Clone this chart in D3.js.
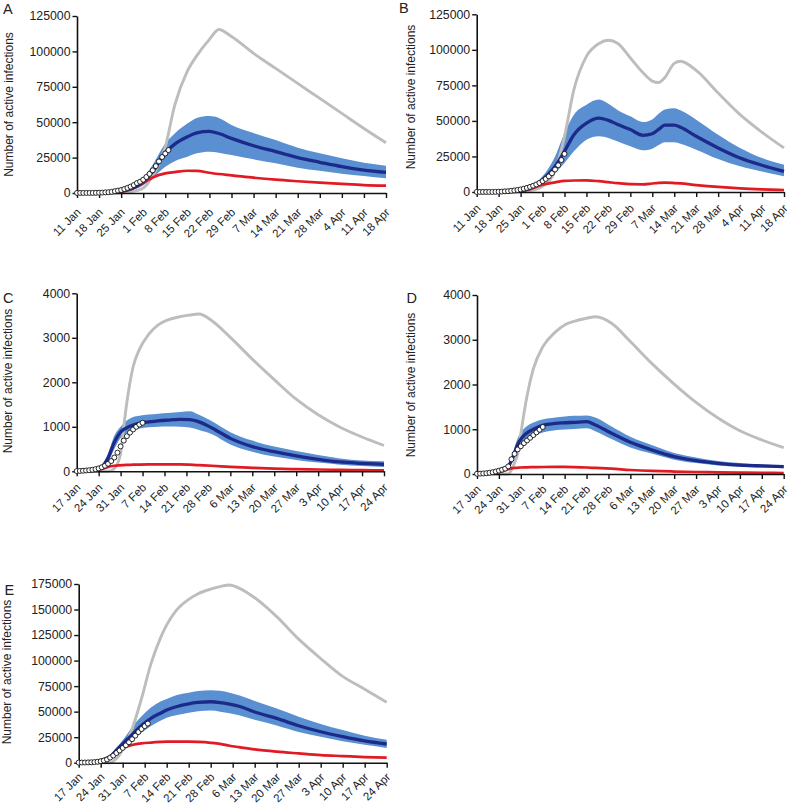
<!DOCTYPE html>
<html>
<head>
<meta charset="utf-8">
<script src="https://cdn.jsdelivr.net/npm/d3@7"></script>
<style>
  html, body { margin: 0; padding: 0; background: #fff; }
  svg { display: block; }
  text { font-family: "Liberation Sans", Arial, Helvetica, sans-serif; fill: #222; }
</style>
</head>
<body>
<svg id="chart" width="790" height="809"></svg>
<script>
// ---------- tick labels ----------
const ticksAB = ["11 Jan","18 Jan","25 Jan","1 Feb","8 Feb","15 Feb","22 Feb","29 Feb","7 Mar","14 Mar","21 Mar","28 Mar","4 Apr","11 Apr","18 Apr"];
const ticksCDE = ["17 Jan","24 Jan","31 Jan","7 Feb","14 Feb","21 Feb","28 Feb","6 Mar","13 Mar","20 Mar","27 Mar","3 Apr","10 Apr","17 Apr","24 Apr"];
const yTicksAB = [0, 25000, 50000, 75000, 100000, 125000];
const yTicksCD = [0, 1000, 2000, 3000, 4000];
const yTicksE = [0, 25000, 50000, 75000, 100000, 125000, 150000, 175000];

// ---------- Panel A (days since 11 Jan) ----------
const A_days   = [0, 7, 10, 14, 17, 21, 24, 28, 31, 35, 38, 42, 45, 49, 56, 63, 70, 77, 84, 91, 98];
const A_gray   = [0, 0, 0, 200, 800, 3500, 12000, 32500, 62000, 86000, 97000, 108500, 115500, 110500, 98600, 88000, 77400, 66800, 56200, 45600, 35500];
const A_median = [10, 100, 300, 1200, 2800, 8000, 15000, 28500, 34500, 39700, 42500, 43500, 42000, 38600, 33400, 29200, 25000, 21700, 18600, 16200, 14600];
const A_upper  = [15, 150, 450, 1800, 4000, 10500, 20000, 35000, 42000, 49000, 53000, 54300, 53000, 48000, 42300, 37400, 32000, 28000, 24500, 21400, 19300];
const A_lower  = [5, 50, 150, 700, 1800, 5500, 11000, 18600, 22500, 25600, 28000, 29200, 28500, 26800, 23800, 21000, 17900, 15700, 13600, 12000, 10400];
const A_red    = [0, 50, 200, 800, 2500, 7000, 11000, 13900, 14800, 15700, 15600, 14300, 13400, 12500, 10800, 9400, 8300, 7300, 6400, 5600, 5200];
const A_obs    = [40, 40, 41, 41, 45, 60, 120, 200, 290, 440, 570, 830, 1280, 1700, 2100, 2800, 3600, 4500, 5600, 7000, 8000, 9400, 11300, 13500, 16000, 19000, 22300, 25400, 27900, 30300];

// ---------- Panel B (days since 11 Jan) ----------
const B_days   = [0, 7, 10, 14, 17, 21, 25, 28, 31, 35, 39, 42, 45, 49, 53, 56, 58, 60, 63, 65, 70, 77, 84, 91, 98];
const B_gray   = [0, 0, 0, 200, 900, 4000, 15000, 39000, 72000, 95400, 104500, 106700, 104500, 94300, 84000, 78000, 77000, 80500, 90500, 92000, 85500, 69600, 54400, 42000, 31000];
const B_median = [10, 100, 300, 1000, 2500, 8700, 18000, 28600, 40300, 48500, 52000, 50400, 47500, 43900, 39900, 41000, 44000, 47000, 47000, 45500, 39200, 31000, 23900, 18800, 14500];
const B_upper  = [15, 150, 450, 1500, 3500, 11000, 25000, 41500, 54400, 61400, 65000, 62000, 57500, 53200, 49200, 51000, 55000, 58000, 59000, 57500, 50900, 40300, 31000, 23900, 19200];
const B_lower  = [5, 50, 150, 600, 1800, 6300, 13400, 20400, 28600, 36800, 39200, 38000, 35500, 32100, 29300, 30500, 33000, 35000, 35000, 34000, 29800, 23200, 18100, 14500, 11000];
const B_red    = [0, 50, 200, 700, 2000, 5200, 6800, 7800, 8100, 8200, 7600, 6900, 6200, 5500, 5400, 6000, 6400, 6600, 6300, 6000, 4900, 3600, 2600, 1900, 1400];
const B_obs    = [40, 40, 41, 41, 45, 60, 120, 200, 290, 440, 570, 830, 1100, 1450, 1800, 2300, 2900, 3600, 4400, 5300, 6400, 7700, 9200, 11000, 13200, 15800, 18800, 22500, 26800];

// ---------- Panel C (days since 17 Jan) ----------
const C_days   = [0, 5, 8, 10, 12, 14, 15, 16, 18, 20, 23, 26, 29, 33, 36, 39, 43, 49, 56, 63, 70, 77, 84, 91, 98];
const C_gray   = [0, 0, 0, 0, 60, 400, 1000, 1550, 2350, 2740, 3080, 3290, 3400, 3475, 3510, 3535, 3390, 3010, 2520, 2060, 1620, 1270, 990, 770, 580];
const C_median = [5, 20, 100, 300, 650, 880, 940, 980, 1040, 1080, 1110, 1135, 1150, 1165, 1160, 1110, 980, 740, 555, 440, 345, 270, 210, 180, 157];
const C_upper  = [8, 30, 150, 400, 800, 1000, 1080, 1140, 1220, 1250, 1275, 1295, 1310, 1330, 1350, 1270, 1130, 880, 690, 555, 455, 365, 290, 245, 225];
const C_lower  = [3, 12, 60, 200, 500, 750, 820, 860, 920, 960, 990, 1000, 1005, 1000, 985, 930, 840, 605, 440, 330, 255, 195, 150, 120, 97];
const C_red    = [0, 10, 50, 100, 125, 135, 140, 143, 148, 152, 155, 157, 157, 155, 148, 138, 125, 100, 78, 60, 48, 40, 32, 26, 21];
const C_obs    = [5, 8, 12, 18, 25, 35, 48, 65, 90, 125, 170, 230, 310, 420, 560, 690, 790, 870, 940, 1000, 1050, 1090];

// ---------- Panel D (days since 17 Jan) ----------
const D_days   = [0, 5, 8, 10, 11, 12, 13, 14, 15, 16, 18, 21, 25, 28, 31, 35, 38, 43, 49, 56, 63, 70, 77, 84, 91, 98];
const D_gray   = [0, 0, 0, 0, 90, 250, 450, 900, 1350, 1750, 2350, 2840, 3170, 3330, 3410, 3480, 3515, 3370, 2960, 2460, 2010, 1600, 1250, 965, 760, 590];
const D_median = [5, 25, 80, 170, 300, 470, 660, 780, 860, 920, 1000, 1085, 1130, 1145, 1155, 1170, 1090, 910, 710, 535, 390, 298, 238, 200, 180, 164];
const D_upper  = [8, 35, 110, 230, 380, 600, 800, 930, 1010, 1070, 1150, 1220, 1265, 1285, 1300, 1310, 1255, 1060, 830, 640, 470, 370, 290, 245, 215, 195];
const D_lower  = [3, 15, 50, 120, 220, 360, 520, 630, 700, 760, 850, 930, 980, 995, 1005, 1020, 950, 780, 590, 450, 320, 245, 190, 160, 145, 130];
const D_red    = [0, 15, 60, 110, 125, 135, 140, 145, 148, 150, 153, 156, 158, 157, 153, 145, 135, 118, 90, 68, 55, 45, 37, 30, 26, 22];
const D_obs    = [5, 8, 12, 18, 28, 40, 55, 75, 95, 120, 170, 330, 450, 550, 620, 690, 750, 810, 870, 930, 990, 1050];

// ---------- Panel E (days since 17 Jan) ----------
const E_days   = [0, 4, 7, 10, 12, 14, 17, 20, 23, 26, 28, 31, 35, 38, 42, 45, 48, 51, 56, 63, 70, 77, 84, 91, 98];
const E_gray   = [0, 0, 0, 0, 4000, 13000, 33000, 63000, 97000, 122000, 135000, 149000, 160000, 165500, 170000, 172500, 174000, 171000, 161500, 143000, 121000, 102000, 84500, 72000, 59100];
const E_median = [200, 600, 2000, 5900, 12000, 18500, 27500, 36500, 43500, 48500, 51600, 54800, 57700, 59000, 59700, 58900, 57300, 55300, 49700, 43400, 36200, 30300, 25500, 21300, 18300];
const E_upper  = [300, 800, 2800, 8000, 15000, 22000, 35000, 45500, 54000, 60000, 62500, 66000, 68500, 70200, 71000, 70500, 68500, 66000, 60500, 53000, 45000, 38000, 32000, 26500, 22500];
const E_lower  = [100, 400, 1300, 4000, 9000, 14500, 21500, 29500, 36000, 41000, 44000, 46500, 49000, 50500, 51000, 50000, 48500, 46500, 42000, 36500, 30000, 25300, 21000, 17500, 14500];
const E_red    = [200, 700, 2600, 5900, 10000, 14000, 17300, 18900, 19700, 20300, 20600, 20700, 20600, 20300, 19500, 18500, 16600, 15200, 13000, 10800, 9100, 7500, 6500, 5500, 4900];
const E_obs    = [100, 150, 200, 300, 400, 600, 900, 1400, 2100, 3200, 5000, 7000, 9500, 12000, 14500, 17000, 20000, 23000, 26500, 30000, 33000, 35800, 38300];

// ---------- styles ----------
const COL_BAND = "#5a8fd2", COL_MED = "#1c2a8a", COL_GRAY = "#bdbdbd", COL_RED = "#e01b24";

const panels = [
  { label: "A", left: 77, right: 386, top: 16, bottom: 193, yMax: 125000, yTicks: yTicksAB, xTicks: ticksAB,
    labX: 3, labY: 13.5, titleX: 12.5, titleY: 104.5, xlabOff: 20,
    days: A_days, gray: A_gray, median: A_median, upper: A_upper, lower: A_lower, red: A_red, obs: A_obs },
  { label: "B", left: 476.7, right: 784, top: 14.3, bottom: 192, yMax: 125000, yTicks: yTicksAB, xTicks: ticksAB,
    labX: 399, labY: 12.7, titleX: 414.5, titleY: 97, xlabOff: 17,
    days: B_days, gray: B_gray, median: B_median, upper: B_upper, lower: B_lower, red: B_red, obs: B_obs },
  { label: "C", left: 76.7, right: 384, top: 293.3, bottom: 471.3, yMax: 4000, yTicks: yTicksCD, xTicks: ticksCDE,
    labX: 3, labY: 303, titleX: 11.5, titleY: 381, xlabOff: 17,
    days: C_days, gray: C_gray, median: C_median, upper: C_upper, lower: C_lower, red: C_red, obs: C_obs },
  { label: "D", left: 477, right: 783.7, top: 295, bottom: 474, yMax: 4000, yTicks: yTicksCD, xTicks: ticksCDE,
    labX: 406.5, labY: 302.7, titleX: 414.5, titleY: 385, xlabOff: 16,
    days: D_days, gray: D_gray, median: D_median, upper: D_upper, lower: D_lower, red: D_red, obs: D_obs },
  { label: "E", left: 78.7, right: 386.7, top: 584, bottom: 762.7, yMax: 175000, yTicks: yTicksE, xTicks: ticksCDE,
    labX: 4.5, labY: 595, titleX: 11, titleY: 672, xlabOff: 15,
    days: E_days, gray: E_gray, median: E_median, upper: E_upper, lower: E_lower, red: E_red, obs: E_obs }
];

const svg = d3.select("#chart");

panels.forEach(p => {
  const g = svg.append("g");
  const x = d3.scaleLinear().domain([0, 98]).range([p.left, p.right]);
  const y = d3.scaleLinear().domain([0, p.yMax]).range([p.bottom, p.top]);

  const pts = arr => p.days.map((d, i) => [d, arr[i]]);
  const line = d3.line().x(d => x(d[0])).y(d => y(d[1])).curve(d3.curveMonotoneX);
  const area = d3.area().x(d => x(d.day)).y0(d => y(d.lo)).y1(d => y(d.hi)).curve(d3.curveMonotoneX);
  const band = p.days.map((d, i) => ({ day: d, lo: p.lower[i], hi: p.upper[i] }));

  g.append("path").datum(band).attr("d", area).attr("fill", COL_BAND);
  g.append("path").datum(pts(p.gray)).attr("d", line)
    .attr("fill", "none").attr("stroke", COL_GRAY).attr("stroke-width", 2.9);
  g.append("path").datum(pts(p.red)).attr("d", line)
    .attr("fill", "none").attr("stroke", COL_RED).attr("stroke-width", 2.7);
  g.append("path").datum(pts(p.median)).attr("d", line)
    .attr("fill", "none").attr("stroke", COL_MED).attr("stroke-width", 3.3);

  const xAxis = d3.axisBottom(x).tickValues(d3.range(0, 99, 7))
    .tickFormat((d, i) => p.xTicks[i]).tickSize(5).tickSizeOuter(0);
  const xg = g.append("g").attr("transform", `translate(0,${p.bottom})`).call(xAxis);
  xg.selectAll("text").remove();
  xg.selectAll(".tick").each(function(d, i) {
    d3.select(this).append("text")
      .attr("transform", `translate(4,${p.xlabOff}) rotate(-45)`)
      .attr("text-anchor", "end")
      .attr("font-size", 11.5)
      .attr("fill", "#222")
      .text(p.xTicks[i]);
  });

  const yAxis = d3.axisLeft(y).tickValues(p.yTicks).tickFormat(d3.format("d"))
    .tickSize(4.5).tickPadding(2).tickSizeOuter(0);
  const yg = g.append("g").attr("transform", `translate(${p.left},0)`).call(yAxis);
  yg.selectAll("text").attr("font-size", 12.3).attr("fill", "#222")
    .attr("font-family", "'Liberation Sans', Arial, sans-serif");

  [xg, yg].forEach(a => {
    a.select(".domain").attr("stroke", "#111").attr("stroke-width", 1.6);
    a.selectAll(".tick line").attr("stroke", "#111").attr("stroke-width", 1.4);
  });

  g.append("g").selectAll("circle").data(p.obs).join("circle")
    .attr("cx", (d, i) => x(i)).attr("cy", d => y(d)).attr("r", 2.5)
    .attr("fill", "#fff").attr("stroke", "#111").attr("stroke-width", 0.9);

  g.append("text")
    .attr("transform", `translate(${p.titleX},${p.titleY}) rotate(-90)`)
    .attr("text-anchor", "middle").attr("font-size", 12)
    .text("Number of active infections");

  g.append("text").attr("x", p.labX).attr("y", p.labY)
    .attr("font-size", 14.5).attr("fill", "#000").text(p.label);
});
</script>
</body>
</html>
